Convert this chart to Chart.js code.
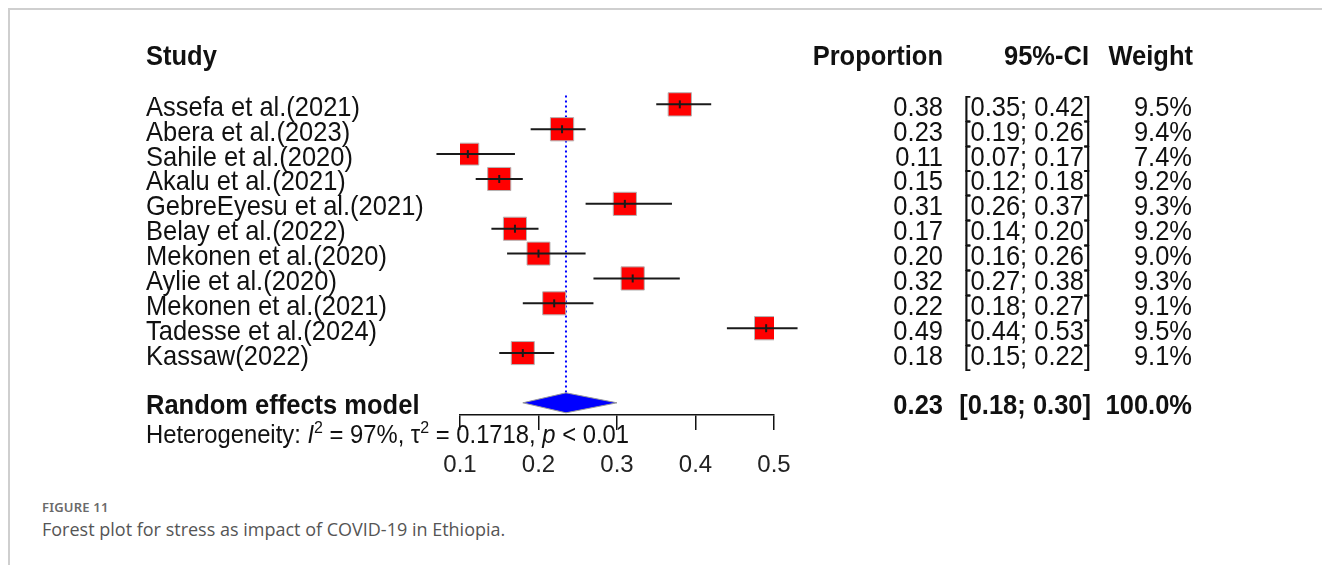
<!DOCTYPE html>
<html>
<head>
<meta charset="utf-8">
<script src="https://cdn.jsdelivr.net/npm/chart.js@4.4.1/dist/chart.umd.min.js"></script>
<style>
  html, body { margin: 0; padding: 0; background: #fff; width: 1322px; height: 565px; overflow: hidden; }
  #frame { position: absolute; left: 8px; top: 8px; width: 1400px; height: 700px; border-top: 2px solid #cfcfcf; border-left: 2px solid #cfcfcf; }
  #plot { position: absolute; left: 0; top: 0; }
  .fig-no { position: absolute; left: 42px; top: 498px; font: 600 13px "Noto Sans", sans-serif; color: #6a6a6a; letter-spacing: 0.2px; }
  .fig-cap { position: absolute; left: 42px; top: 517px; font: 400 18px "Open Sans", sans-serif; color: #555; }
</style>
</head>
<body>
<div id="frame"></div>
<canvas id="plot" width="1322" height="490"></canvas>
<div class="fig-no">FIGURE 11</div>
<div class="fig-cap">Forest plot for stress as impact of COVID-19 in Ethiopia.</div>
<script>
// Study data
const studies = ['Assefa et al.(2021)', 'Abera et al.(2023)', 'Sahile et al.(2020)', 'Akalu et al.(2021)',
    'GebreEyesu et al.(2021)', 'Belay et al.(2022)', 'Mekonen et al.(2020)', 'Aylie et al.(2020)',
    'Mekonen et al.(2021)', 'Tadesse et al.(2024)', 'Kassaw(2022)'];
const proportion = [0.38, 0.23, 0.11, 0.15, 0.31, 0.17, 0.20, 0.32, 0.22, 0.49, 0.18];
const ciLower = [0.35, 0.19, 0.07, 0.12, 0.26, 0.14, 0.16, 0.27, 0.18, 0.44, 0.15];
const ciUpper = [0.42, 0.26, 0.17, 0.18, 0.37, 0.20, 0.26, 0.38, 0.27, 0.53, 0.22];
const weights = [9.5, 9.4, 7.4, 9.2, 9.3, 9.2, 9.0, 9.3, 9.1, 9.5, 9.1];

// Random effects model
const pooled = 0.235;
const pooledLower = 0.18;
const pooledUpper = 0.30;
const pooledText = ['0.23', '[0.18; 0.30]', '100.0%'];

const xTicks = [0.1, 0.2, 0.3, 0.4, 0.5];
const pooledRow = studies.length + 1;

const FONT = '"Liberation Sans", Arial, sans-serif';

function squareSide(w) {
    return 23.3 * Math.pow(w / 9.5, 0.25);
}

function drawText(ctx, str, x, y, align, font, color) {
    ctx.save();
    ctx.font = font;
    ctx.fillStyle = color || '#111';
    ctx.textAlign = align;
    ctx.textBaseline = 'alphabetic';
    ctx.translate(x, y);
    ctx.scale(1, 1.08);
    ctx.fillText(str, 0, 0);
    ctx.restore();
}

// CI whiskers, reference line, diamond and table text
const forestPlugin = {
    id: 'forest',
    beforeDatasetsDraw(chart) {
        const ctx = chart.ctx;
        const xs = chart.scales.x, ys = chart.scales.y;
        // dotted line at pooled estimate
        ctx.save();
        ctx.strokeStyle = '#0000ff';
        ctx.lineWidth = 2;
        ctx.setLineDash([2, 3]);
        ctx.beginPath();
        ctx.moveTo(xs.getPixelForValue(pooled), ys.getPixelForValue(-0.36));
        ctx.lineTo(xs.getPixelForValue(pooled), ys.getPixelForValue(pooledRow - 0.4));
        ctx.stroke();
        ctx.restore();
    },
    afterDatasetsDraw(chart) {
        const ctx = chart.ctx;
        const xs = chart.scales.x, ys = chart.scales.y;
        ctx.save();
        ctx.strokeStyle = '#1a1a1a';
        ctx.lineWidth = 2;
        studies.forEach((s, i) => {
            const y = ys.getPixelForValue(i);
            ctx.beginPath();
            ctx.moveTo(xs.getPixelForValue(ciLower[i]), y);
            ctx.lineTo(xs.getPixelForValue(ciUpper[i]), y);
            ctx.stroke();
            const cx = xs.getPixelForValue(proportion[i]);
            ctx.beginPath();
            ctx.moveTo(cx, y - 4);
            ctx.lineTo(cx, y + 4);
            ctx.stroke();
        });
        // diamond
        const py = ys.getPixelForValue(pooledRow);
        const h = 10;
        ctx.beginPath();
        ctx.moveTo(xs.getPixelForValue(pooledLower), py);
        ctx.lineTo(xs.getPixelForValue(pooled), py - h);
        ctx.lineTo(xs.getPixelForValue(pooledUpper), py);
        ctx.lineTo(xs.getPixelForValue(pooled), py + h);
        ctx.closePath();
        ctx.fillStyle = '#0000ff';
        ctx.fill();
        ctx.strokeStyle = '#9a9a9a';
        ctx.lineWidth = 1;
        ctx.stroke();
        ctx.restore();
    },
    afterDraw(chart) {
        const ctx = chart.ctx;
        const ys = chart.scales.y;
        const reg = '25.5px ' + FONT;
        const bold = 'bold 25.5px ' + FONT;
        const base = r => ys.getPixelForValue(r) + 11.5;

        // header
        drawText(ctx, 'Study', 146, base(-2) - 1, 'left', bold);
        drawText(ctx, 'Proportion', 943, base(-2) - 1, 'right', bold);
        drawText(ctx, '95%-CI', 1089, base(-2) - 1, 'right', bold);
        drawText(ctx, 'Weight', 1193, base(-2) - 1, 'right', bold);

        studies.forEach((s, i) => {
            drawText(ctx, s, 146, base(i), 'left', reg);
            drawText(ctx, proportion[i].toFixed(2), 943, base(i), 'right', reg);
            drawText(ctx, '[' + ciLower[i].toFixed(2) + '; ' + ciUpper[i].toFixed(2) + ']', 1091, base(i), 'right', reg);
            drawText(ctx, weights[i].toFixed(1) + '%', 1192, base(i), 'right', reg);
        });

        drawText(ctx, 'Random effects model', 146, base(pooledRow), 'left', bold);
        drawText(ctx, pooledText[0], 943, base(pooledRow), 'right', bold);
        drawText(ctx, pooledText[1], 1091, base(pooledRow), 'right', bold);
        drawText(ctx, pooledText[2], 1192, base(pooledRow), 'right', bold);

        // heterogeneity line
        const hy = ys.getPixelForValue(pooledRow + 1.2) + 10;
        const hf = '23.8px ' + FONT;
        const hi = 'italic 23.8px ' + FONT;
        const sup = '16px ' + FONT;
        const parts = [
            ['Heterogeneity: ', hf, 0],
            ['I', hi, 0],
            ['2', sup, -10],
            [' = 97%, \u03c4', hf, 0],
            ['2', sup, -10],
            [' = 0.1718, ', hf, 0],
            ['p', hi, 0],
            [' < 0.01', hf, 0]
        ];
        let x = 146;
        parts.forEach(p => {
            drawText(ctx, p[0], x, hy + p[2], 'left', p[1]);
            ctx.font = p[1];
            x += ctx.measureText(p[0]).width;
        });
    }
};

const ctx = document.getElementById('plot').getContext('2d');
new Chart(ctx, {
    type: 'scatter',
    data: {
        datasets: [{
            data: studies.map((s, i) => ({ x: proportion[i], y: i })),
            pointStyle: 'rect',
            pointRadius: c => squareSide(weights[c.dataIndex]) / Math.SQRT2,
            pointHoverRadius: c => squareSide(weights[c.dataIndex]) / Math.SQRT2,
            backgroundColor: '#ff0000',
            borderColor: '#b4b4b4',
            borderWidth: 1
        }]
    },
    options: {
        responsive: false,
        animation: false,
        devicePixelRatio: 1,
        layout: { padding: { left: 460, right: 548, top: 5, bottom: 0 } },
        plugins: { legend: { display: false }, tooltip: { enabled: false } },
        scales: {
            x: {
                type: 'linear',
                min: 0.1,
                max: 0.5,
                afterFit: s => { s.height = 75; },
                afterBuildTicks: s => { s.ticks = xTicks.map(v => ({ value: v })); },
                ticks: {
                    callback: v => v.toFixed(1),
                    font: { family: FONT, size: 24 },
                    color: '#222',
                    padding: 21
                },
                grid: { drawOnChartArea: false, drawTicks: true, tickLength: 15, color: '#111', lineWidth: 1.5 },
                border: { display: true, color: '#111', width: 1.5 }
            },
            y: {
                type: 'linear',
                reverse: true,
                min: -3.494,
                max: 12.49,
                display: false
            }
        }
    },
    plugins: [forestPlugin]
});
</script>
</body>
</html>
